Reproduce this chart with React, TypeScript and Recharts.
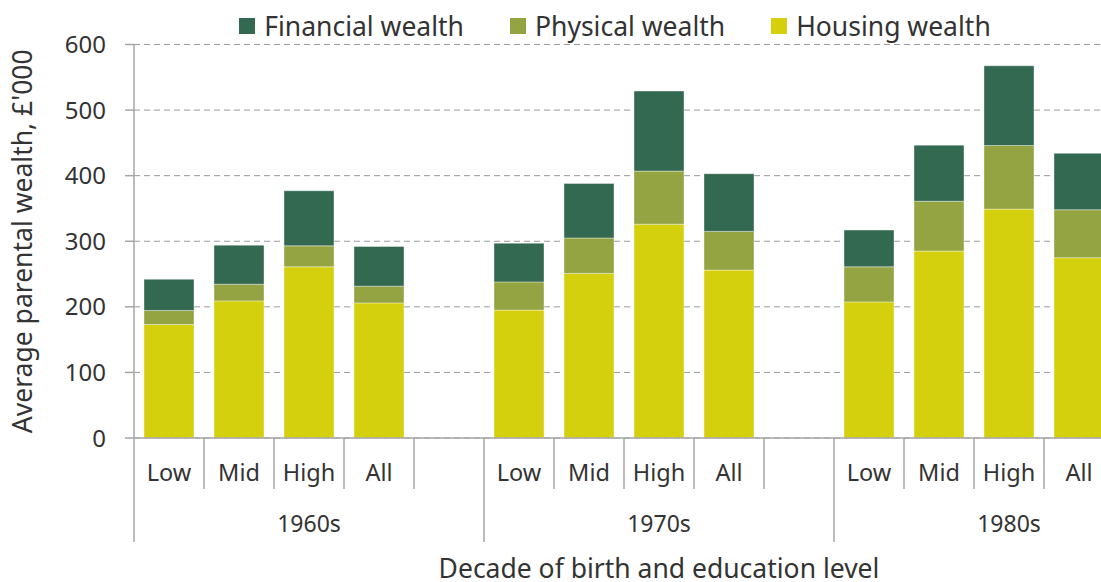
import { BarChart, Bar, XAxis, YAxis, CartesianGrid, Legend, Label } from 'recharts'

const levels = ['Low', 'Mid', 'High', 'All', '']
const decades = ['1960s', '1970s', '1980s']
// per decade: Low, Mid, High, All (£'000)
const housing = [173, 209, 261, 206, 195, 251, 326, 256, 207.5, 285, 349, 275]
const physical = [21.5, 25.5, 32, 25.5, 43, 54, 81, 59, 53.5, 76, 97, 73]
const financial = [47.5, 59.5, 84, 60.5, 59, 83, 122, 88, 56, 85.5, 121.5, 86]
const yTicks = [0, 100, 200, 300, 400, 500, 600]
const legendOrder = ['Financial wealth', 'Physical wealth', 'Housing wealth']

const yTitle = "Average parental wealth, £'000"
const xTitle = 'Decade of birth and education level'

const COLORS = { financial: '#336950', physical: '#95a443', housing: '#d5d00d' }
const FONT = '"Noto Sans", "Open Sans", sans-serif'
const TEXT = '#333333'
const AXIS = '#a6a6a6'

const data = decades.flatMap((decade, d) =>
  levels.map((level, j) => {
    const k = d * 4 + j
    return {
      key: `${decade}-${j}`,
      level,
      decade,
      housing: j < 4 ? housing[k] : null,
      physical: j < 4 ? physical[k] : null,
      financial: j < 4 ? financial[k] : null,
    }
  })
)

const CHART_W = 1230
const CHART_H = 582
const MARGIN = { top: 14.5, right: 46, bottom: 0, left: 0 }
const Y_WIDTH = 134
const X_HEIGHT = 144
const slot = (CHART_W - MARGIN.left - MARGIN.right - Y_WIDTH) / data.length

function LevelTick(props: any) {
  const { x, y, payload } = props
  const i = payload.index
  const row = data[i]
  const left = x - slot / 2
  const groupStart = i % levels.length === 0
  return (
    <g>
      <line x1={left} x2={left} y1={y} y2={y + (groupStart ? 104 : 51)} stroke={AXIS} strokeWidth={1.5} />
      <text x={x} y={y + 43} textAnchor="middle" fill={TEXT} fontSize={23.5} fontFamily={FONT}>
        {row.level}
      </text>
      {i % levels.length === 2 && (
        <text x={x} y={y + 94} textAnchor="middle" fill={TEXT} fontSize={23} fontFamily={FONT}>
          {row.decade}
        </text>
      )}
    </g>
  )
}

function LegendContent(props: any) {
  const items = legendOrder
    .map((name) => (props.payload || []).find((p: any) => p.value === name))
    .filter(Boolean)
  return (
    <div style={{ display: 'flex', justifyContent: 'center', alignItems: 'center', height: 30, fontFamily: FONT, fontSize: 26.5, color: TEXT }}>
      {items.map((it: any) => (
        <div key={it.value} style={{ display: 'flex', alignItems: 'center', margin: '0 23px' }}>
          <span style={{ width: 16, height: 16, background: it.color, display: 'inline-block', marginRight: 9 }} />
          <span>{it.value}</span>
        </div>
      ))}
    </div>
  )
}

export default function App() {
  return (
    <div style={{ position: 'absolute', left: 0, top: 0, width: 1101, height: 582, overflow: 'hidden', background: '#fff' }}>
      <BarChart width={CHART_W} height={CHART_H} data={data} margin={MARGIN}>
        <CartesianGrid stroke="#9a9a9a" strokeDasharray="6 4" vertical={false} />
        <Legend verticalAlign="top" align="center" content={LegendContent} wrapperStyle={{ left: 0, width: CHART_W, top: 11 }} />
        <YAxis
          domain={[0, 600]}
          ticks={yTicks}
          width={Y_WIDTH}
          axisLine={{ stroke: AXIS, strokeWidth: 1.5 }}
          tickLine={{ stroke: AXIS, strokeWidth: 1.5 }}
          tickSize={9}
          tickMargin={19}
          tick={{ fill: TEXT, fontSize: 24, fontFamily: FONT }}
        >
          <Label
            content={({ viewBox }: any) => (
              <text
                transform={`translate(${viewBox.x + 22},${viewBox.y + viewBox.height / 2}) rotate(-90)`}
                textAnchor="middle"
                dominantBaseline="central"
                fill={TEXT}
                fontSize={26.5}
                fontFamily={FONT}
              >
                {yTitle}
              </text>
            )}
          />
        </YAxis>
        <XAxis
          dataKey="key"
          interval={0}
          height={X_HEIGHT}
          axisLine={{ stroke: AXIS, strokeWidth: 1.5 }}
          tickLine={false}
          tickSize={0}
          tickMargin={0}
          tick={LevelTick}
        >
          <Label
            content={({ viewBox }: any) => (
              <text x={viewBox.x + viewBox.width / 2} y={578} textAnchor="middle" fill={TEXT} fontSize={26.5} fontFamily={FONT}>
                {xTitle}
              </text>
            )}
          />
        </XAxis>
        <Bar dataKey="housing" name="Housing wealth" stackId="w" fill={COLORS.housing} barSize={50} stroke="rgba(255,255,255,0.5)" strokeWidth={0.75} isAnimationActive={false} />
        <Bar dataKey="physical" name="Physical wealth" stackId="w" fill={COLORS.physical} barSize={50} stroke="rgba(255,255,255,0.5)" strokeWidth={0.75} isAnimationActive={false} />
        <Bar dataKey="financial" name="Financial wealth" stackId="w" fill={COLORS.financial} barSize={50} stroke="rgba(255,255,255,0.5)" strokeWidth={0.75} isAnimationActive={false} />
      </BarChart>
    </div>
  )
}
